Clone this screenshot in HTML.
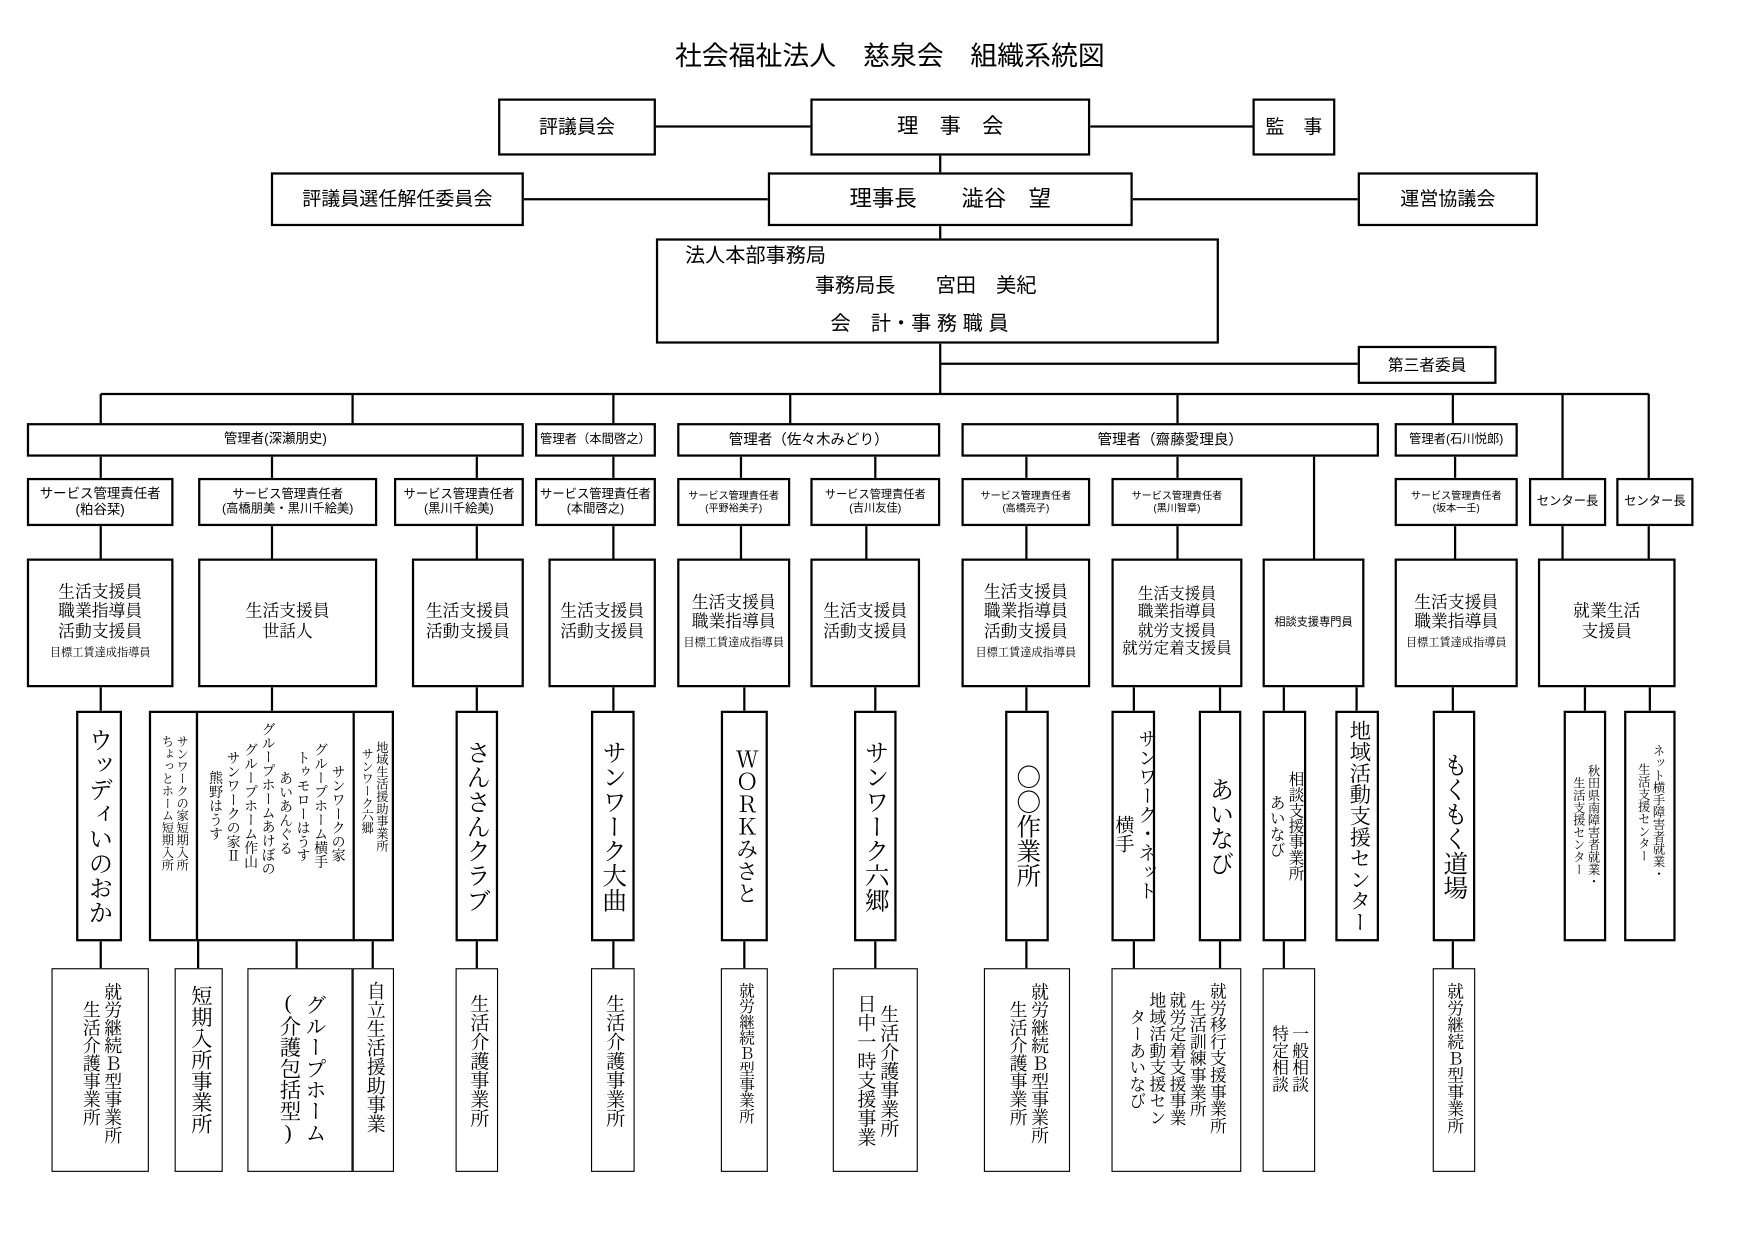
<!DOCTYPE html>
<html><head><meta charset="utf-8">
<style>
html,body{margin:0;padding:0;background:#fff;}
body{width:1755px;height:1241px;overflow:hidden;position:relative;}
#w{position:absolute;left:0;top:0;width:1568px;height:1109px;transform:scale(1.1193);transform-origin:0 0;}
.b{position:absolute;border:2px solid #000;box-sizing:border-box;display:flex;align-items:center;justify-content:center;text-align:center;background:#fff;font-family:"Liberation Sans","Noto Sans CJK JP",sans-serif;color:#000;line-height:1.15;}
.m{font-family:"Liberation Serif","Noto Serif CJK JP","Noto Serif CJK SC",serif;}
.t{border-width:1px;}
.v{writing-mode:vertical-rl;text-orientation:upright;line-height:1.2;}
svg{position:absolute;left:0;top:0;}
</style></head><body><div id="w">
<svg width="1568" height="1109" stroke="#000" stroke-width="2" fill="none">
<line x1="586" y1="113" x2="724" y2="113"/><line x1="974" y1="113" x2="1119" y2="113"/>
<line x1="840" y1="139" x2="840" y2="154"/>
<line x1="468" y1="178" x2="686" y2="178"/><line x1="1012" y1="178" x2="1213" y2="178"/>
<line x1="840" y1="202" x2="840" y2="213"/>
<line x1="840" y1="307" x2="840" y2="352"/><line x1="840" y1="325" x2="1213" y2="325"/>
<line x1="90" y1="352" x2="1473" y2="352"/>
<line x1="90" y1="352" x2="90" y2="378"/><line x1="315" y1="352" x2="315" y2="378"/>
<line x1="548" y1="352" x2="548" y2="378"/><line x1="706" y1="352" x2="706" y2="378"/>
<line x1="1052" y1="352" x2="1052" y2="378"/><line x1="1298" y1="352" x2="1298" y2="378"/>
<line x1="1396" y1="352" x2="1396" y2="427"/><line x1="1473" y1="352" x2="1473" y2="427"/>
<!-- bar to sabikan -->
<line x1="90" y1="408" x2="90" y2="427"/><line x1="243" y1="408" x2="243" y2="427"/><line x1="426" y1="408" x2="426" y2="427"/>
<line x1="548" y1="408" x2="548" y2="427"/><line x1="662" y1="408" x2="662" y2="427"/><line x1="782" y1="408" x2="782" y2="427"/>
<line x1="917" y1="408" x2="917" y2="427"/><line x1="1052" y1="408" x2="1052" y2="427"/><line x1="1174" y1="408" x2="1174" y2="499"/>
<line x1="1300" y1="408" x2="1300" y2="427"/>
<!-- sabikan to staff -->
<line x1="90" y1="470" x2="90" y2="499"/><line x1="243" y1="470" x2="243" y2="499"/><line x1="426" y1="470" x2="426" y2="499"/>
<line x1="548" y1="470" x2="548" y2="499"/><line x1="662" y1="470" x2="662" y2="499"/><line x1="774" y1="470" x2="774" y2="499"/>
<line x1="917" y1="470" x2="917" y2="499"/><line x1="1052" y1="470" x2="1052" y2="499"/><line x1="1300" y1="470" x2="1300" y2="499"/>
<line x1="1396" y1="470" x2="1396" y2="499"/><line x1="1473" y1="470" x2="1473" y2="499"/>
<!-- staff to names -->
<line x1="90" y1="614" x2="90" y2="635"/><line x1="243" y1="614" x2="243" y2="635"/><line x1="426" y1="614" x2="426" y2="635"/>
<line x1="548" y1="614" x2="548" y2="635"/><line x1="665" y1="614" x2="665" y2="635"/><line x1="782" y1="614" x2="782" y2="635"/>
<line x1="917" y1="614" x2="917" y2="635"/><line x1="1013" y1="614" x2="1013" y2="635"/><line x1="1090" y1="614" x2="1090" y2="635"/>
<line x1="1147" y1="614" x2="1147" y2="635"/><line x1="1212" y1="614" x2="1212" y2="635"/><line x1="1298" y1="614" x2="1298" y2="635"/>
<line x1="1416" y1="614" x2="1416" y2="635"/><line x1="1474" y1="614" x2="1474" y2="635"/>
<!-- names to bottom -->
<line x1="90" y1="841" x2="90" y2="865"/><line x1="177" y1="841" x2="177" y2="865"/><line x1="265" y1="841" x2="265" y2="865"/><line x1="333" y1="841" x2="333" y2="865"/>
<line x1="426" y1="841" x2="426" y2="865"/><line x1="548" y1="841" x2="548" y2="865"/><line x1="665" y1="841" x2="665" y2="865"/>
<line x1="782" y1="841" x2="782" y2="865"/><line x1="917" y1="841" x2="917" y2="865"/><line x1="1013" y1="841" x2="1013" y2="865"/>
<line x1="1090" y1="841" x2="1090" y2="865"/><line x1="1147" y1="841" x2="1147" y2="865"/><line x1="1298" y1="841" x2="1298" y2="865"/>
</svg>

<div style="position:absolute;left:0;width:1590px;top:30px;text-align:center;font-family:'Liberation Sans','Noto Sans CJK JP',sans-serif;font-size:24px;">社会福祉法人　慈泉会　組織系統図</div>

<div class="b" style="left:445px;top:88px;width:141px;height:51px;font-size:17px;">評議員会</div>
<div class="b" style="left:724px;top:88px;width:250px;height:51px;font-size:19px;">理　事　会</div>
<div class="b" style="left:1119px;top:88px;width:74px;height:51px;font-size:17px;">監　事</div>
<div class="b" style="left:242px;top:154px;width:226px;height:48px;font-size:17px;">評議員選任解任委員会</div>
<div class="b" style="left:686px;top:154px;width:326px;height:48px;font-size:20px;">理事長　　澁谷　望</div>
<div class="b" style="left:1213px;top:154px;width:161px;height:48px;font-size:17px;">運営協議会</div>
<div class="b" style="left:586px;top:213px;width:503px;height:94px;font-size:18px;display:block;text-align:left;">
<div style="position:absolute;left:24px;top:3px;">法人本部事務局</div>
<div style="position:absolute;left:140px;top:30px;">事務局長　　宮田　美紀</div>
<div style="position:absolute;left:154px;top:64px;">会　計・事 務 職 員</div></div>
<div class="b" style="left:1213px;top:309px;width:124px;height:34px;font-size:14px;">第三者委員</div>

<div class="b" style="left:24px;top:378px;width:444px;height:30px;font-size:12px;">管理者(深瀬朋史)</div>
<div class="b" style="left:478px;top:378px;width:108px;height:30px;font-size:11px;">管理者（本間啓之）</div>
<div class="b" style="left:605px;top:378px;width:235px;height:30px;font-size:13px;">管理者（佐々木みどり）</div>
<div class="b" style="left:859px;top:378px;width:373px;height:30px;font-size:13px;">管理者（齋藤愛理良）</div>
<div class="b" style="left:1246px;top:378px;width:110px;height:30px;font-size:11px;">管理者(石川悦郎)</div>

<div class="b" style="left:24px;top:427px;width:131px;height:43px;font-size:12px;">サービス管理責任者<br>(粕谷栞)</div>
<div class="b" style="left:177px;top:427px;width:160px;height:43px;font-size:11px;">サービス管理責任者<br>(高橋朋美・黒川千絵美)</div>
<div class="b" style="left:352px;top:427px;width:116px;height:43px;font-size:11px;">サービス管理責任者<br>(黒川千絵美)</div>
<div class="b" style="left:478px;top:427px;width:108px;height:43px;font-size:11px;">サービス管理責任者<br>(本間啓之)</div>
<div class="b" style="left:605px;top:427px;width:101px;height:43px;font-size:9px;">サービス管理責任者<br>(平野裕美子)</div>
<div class="b" style="left:724px;top:427px;width:116px;height:43px;font-size:10px;">サービス管理責任者<br>(吉川友佳)</div>
<div class="b" style="left:859px;top:427px;width:115px;height:43px;font-size:9px;">サービス管理責任者<br>(高橋亮子)</div>
<div class="b" style="left:993px;top:427px;width:117px;height:43px;font-size:9px;">サービス管理責任者<br>(黒川智章)</div>
<div class="b" style="left:1246px;top:427px;width:110px;height:43px;font-size:9px;">サービス管理責任者<br>(坂本一壬)</div>
<div class="b" style="left:1366px;top:427px;width:69px;height:43px;font-size:11px;">センター長</div>
<div class="b" style="left:1444px;top:427px;width:69px;height:43px;font-size:11px;">センター長</div>

<div class="b m" style="left:24px;top:499px;width:131px;height:115px;font-size:15px;"><div>生活支援員<br>職業指導員<br>活動支援員<br><span style="font-size:10px;">目標工賃達成指導員</span></div></div>
<div class="b m" style="left:177px;top:499px;width:160px;height:115px;font-size:15px;">生活支援員<br>世話人</div>
<div class="b m" style="left:368px;top:499px;width:100px;height:115px;font-size:15px;">生活支援員<br>活動支援員</div>
<div class="b m" style="left:490px;top:499px;width:96px;height:115px;font-size:15px;">生活支援員<br>活動支援員</div>
<div class="b m" style="left:605px;top:499px;width:101px;height:115px;font-size:15px;"><div>生活支援員<br>職業指導員<br><span style="font-size:10px;">目標工賃達成指導員</span></div></div>
<div class="b m" style="left:724px;top:499px;width:98px;height:115px;font-size:15px;">生活支援員<br>活動支援員</div>
<div class="b m" style="left:859px;top:499px;width:115px;height:115px;font-size:15px;"><div>生活支援員<br>職業指導員<br>活動支援員<br><span style="font-size:10px;">目標工賃達成指導員</span></div></div>
<div class="b m" style="left:993px;top:499px;width:117px;height:115px;font-size:14px;">生活支援員<br>職業指導員<br>就労支援員<br>就労定着支援員</div>
<div class="b" style="left:1128px;top:499px;width:91px;height:115px;font-size:10px;">相談支援専門員</div>
<div class="b m" style="left:1246px;top:499px;width:110px;height:115px;font-size:15px;"><div>生活支援員<br>職業指導員<br><span style="font-size:10px;">目標工賃達成指導員</span></div></div>
<div class="b m" style="left:1374px;top:499px;width:123px;height:115px;font-size:15px;">就業生活<br>支援員</div>

<div class="b m" style="left:68px;top:635px;width:41px;height:206px;font-size:22px;"><span class="v">ウッディいのおか</span></div>
<div class="b m" style="left:133px;top:635px;width:44px;height:206px;font-size:11px;align-items:flex-start;padding-top:20px;"><span class="v">サンワークの家短期入所<br>ちょっとホーム短期入所</span></div>
<div class="b m" style="left:175px;top:635px;width:142px;height:206px;font-size:12.5px;align-items:flex-start;padding-top:8px;"><span class="v" style="line-height:1.25;">　　サンワークの家<br>　グループホーム横手<br>　トゥモローはうす<br>　　あいあんぐる<br>グループホームあけぼの<br>　グループホーム作山<br>　サンワークの家Ⅱ<br>　熊野はうす</span></div>
<div class="b m" style="left:315px;top:635px;width:37px;height:206px;font-size:11px;align-items:flex-start;padding-top:14px;"><span class="v">　地域生活援助事業所<br>サンワーク六郷</span></div>
<div class="b m" style="left:407px;top:635px;width:38px;height:206px;font-size:22px;"><span class="v">さんさんクラブ</span></div>
<div class="b m" style="left:528px;top:635px;width:39px;height:206px;font-size:22px;"><span class="v">サンワーク大曲</span></div>
<div class="b m" style="left:644px;top:635px;width:42px;height:206px;font-size:20px;"><span class="v">ＷＯＲＫみさと</span></div>
<div class="b m" style="left:763px;top:635px;width:38px;height:206px;font-size:22px;"><span class="v">サンワーク六郷</span></div>
<div class="b m" style="left:898px;top:635px;width:39px;height:206px;font-size:22px;"><span class="v">〇〇作業所</span></div>
<div class="b m" style="left:993px;top:635px;width:39px;height:206px;font-size:17px;align-items:flex-start;padding-top:14px;"><span class="v">サンワーク・ネット<br>　　横手</span></div>
<div class="b m" style="left:1071px;top:635px;width:38px;height:206px;font-size:22px;"><span class="v">あいなび</span></div>
<div class="b m" style="left:1128px;top:635px;width:39px;height:206px;font-size:14px;"><span class="v">相談支援事業所<br>あいなび</span></div>
<div class="b m" style="left:1193px;top:635px;width:39px;height:206px;font-size:19px;"><span class="v">地域活動支援センター</span></div>
<div class="b m" style="left:1280px;top:635px;width:38px;height:206px;font-size:22px;"><span class="v">もくもく道場</span></div>
<div class="b m" style="left:1397px;top:635px;width:38px;height:206px;font-size:11px;"><span class="v">秋田県南障害者就業・<br>生活支援センター</span></div>
<div class="b m" style="left:1451px;top:635px;width:46px;height:206px;font-size:11px;align-items:flex-start;padding-top:28px;"><span class="v">ネット横手障害者就業・<br>生活支援センター</span></div>

<div class="b t m" style="left:46px;top:865px;width:87px;height:182px;font-size:16px;align-items:flex-start;padding-top:12px;"><span class="v">就労継続Ｂ型事業所<br>生活介護事業所</span></div>
<div class="b t m" style="left:156px;top:865px;width:43px;height:182px;font-size:19px;align-items:flex-start;padding-top:14px;"><span class="v">短期入所事業所</span></div>
<div class="b t m" style="left:221px;top:865px;width:94px;height:182px;font-size:19px;align-items:flex-start;padding-top:20px;"><span class="v">グループホーム<br>(介護包括型)</span></div>
<div class="b t m" style="left:315px;top:865px;width:37px;height:182px;font-size:17px;align-items:flex-start;padding-top:10px;"><span class="v">自立生活援助事業</span></div>
<div class="b t m" style="left:407px;top:865px;width:38px;height:182px;font-size:17px;align-items:flex-start;padding-top:22px;"><span class="v">生活介護事業所</span></div>
<div class="b t m" style="left:528px;top:865px;width:39px;height:182px;font-size:17px;align-items:flex-start;padding-top:22px;"><span class="v">生活介護事業所</span></div>
<div class="b t m" style="left:644px;top:865px;width:42px;height:182px;font-size:14px;align-items:flex-start;padding-top:12px;"><span class="v">就労継続Ｂ型事業所</span></div>
<div class="b t m" style="left:744px;top:865px;width:76px;height:182px;font-size:17px;align-items:flex-start;padding-top:22px;"><span class="v">生活介護事業所<br>日中一時支援事業</span></div>
<div class="b t m" style="left:879px;top:865px;width:77px;height:182px;font-size:16px;align-items:flex-start;padding-top:12px;"><span class="v">就労継続Ｂ型事業所<br>生活介護事業所</span></div>
<div class="b t m" style="left:993px;top:865px;width:116px;height:182px;font-size:15px;align-items:flex-start;padding-top:12px;"><span class="v">就労移行支援事業所<br>生活訓練事業所<br>就労定着支援事業<br>地域活動支援セン<br>ターあいなび</span></div>
<div class="b t m" style="left:1128px;top:865px;width:47px;height:182px;font-size:15px;align-items:flex-start;padding-top:50px;"><span class="v">一般相談<br>特定相談</span></div>
<div class="b t m" style="left:1280px;top:865px;width:38px;height:182px;font-size:15px;align-items:flex-start;padding-top:12px;"><span class="v">就労継続Ｂ型事業所</span></div>
</div></body></html>
